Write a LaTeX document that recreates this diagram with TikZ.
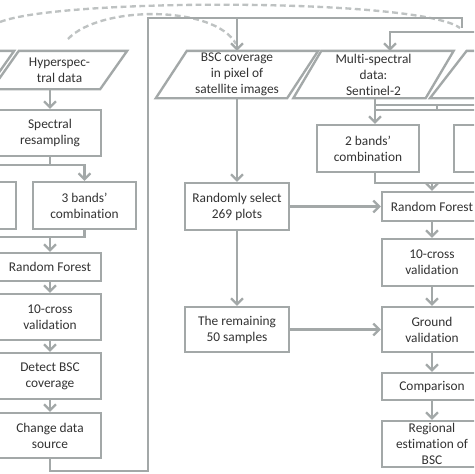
\documentclass[tikz,border=0pt]{standalone}
\usepackage{fontspec}
\setmainfont{Carlito}[Ligatures=NoCommon]
\usetikzlibrary{arrows.meta}
\definecolor{linegray}{RGB}{163,168,168}
\definecolor{dashgray}{RGB}{190,194,194}
\definecolor{textgray}{RGB}{50,50,50}
% slanted frame round a data node: #1 node name, #2 half of the slant
\newcommand{\paraframe}[2]{\draw[flow] ([xshift=-#2]#1.south west) -- ([xshift=#2]#1.north west)
    -- ([xshift=#2]#1.north east) -- ([xshift=-#2]#1.south east) -- cycle;}
\begin{document}
\begin{tikzpicture}[x=0.03cm,y=-0.03cm,
    box/.style={draw=linegray,line width=2pt,fill=white,text=textgray,align=center,inner sep=0pt,
        minimum width=3.06cm,minimum height=1.38cm,font=\fontsize{11.4}{13.6}\selectfont},
    flatbox/.style={box,minimum height=0.84cm},
    datatext/.style={box,draw=none,fill=none,minimum width=3.9cm,minimum height=1.35cm},
    flow/.style={draw=linegray,line width=2pt},
    arr/.style={flow,-{Straight Barb[length=5pt,width=10pt]}},
    loopback/.style={draw=dashgray,line width=2pt,dash pattern=on 5pt off 3pt}]
\useasboundingbox (0,0) rectangle (474,474);
\clip (0,0) rectangle (474,474);
\fill[white] (0,0) rectangle (474,474);

% dashed feedback curves
\coordinate (dA1) at (0,22);
\coordinate (dA2) at (460,28);
\coordinate (dB1) at (68,39);
\coordinate (dB2) at (236,44);
\draw[loopback] (dA1) .. controls (60,-2) and (420,-2) .. (dA2);
\draw[loopback] (dB1) .. controls (100,5) and (215,5) .. (dB2);

% left column: hyperspectral branch
\node[datatext,minimum width=3.18cm,minimum height=1.08cm] (leftpar) at (-53.5,70) {};
\node[datatext,minimum width=3.18cm,minimum height=1.08cm] (hyper) at (59.5,70) {Hyperspec-\\tral data};
\paraframe{leftpar}{0.405cm}
\paraframe{hyper}{0.405cm}
\node[box] (resamp) at (50,133) {Spectral\\resampling};
\node[box,minimum height=1.41cm] (leftbox) at (-35,205.5) {};
\node[box,minimum width=3.09cm,minimum height=1.41cm] (band3) at (84.5,205.5) {3 bands’\\combination};
\node[flatbox] (rfL) at (50,267) {Random Forest};
\node[box] (cvL) at (50,317) {10-cross\\validation};
\node[box] (detect) at (50,376) {Detect BSC\\coverage};
\node[box,minimum height=1.35cm] (change) at (50,435.5) {Change data\\source};

% middle column
\node[datatext,minimum width=3.87cm] (bsc) at (237,74.5) {BSC coverage\\in pixel of\\satellite images};
\paraframe{bsc}{0.465cm}
\node[box,minimum width=3.12cm,minimum height=1.41cm] (rsel) at (237,206.5) {Randomly select\\269 plots};
\node[box,minimum width=3.12cm,minimum height=1.35cm] (rem) at (237,329.5) {The remaining\\50 samples};

% right column: multi-spectral branch
\node[datatext] (multi) at (373.5,74.5) {Multi-spectral\\data:\\Sentinel-2};
\node[datatext] (thirdpar) at (514.5,74.5) {};
\paraframe{multi}{0.42cm}
\paraframe{thirdpar}{0.55cm}
\node[box,minimum height=1.41cm] (band2) at (368,148.5) {2 bands’\\combination};
\node[box,minimum height=1.41cm] (rbox) at (505,148.5) {};
\node[flatbox,minimum width=3cm,minimum height=0.87cm] (rfR) at (432,206.5) {Random Forest};
\node[box,minimum width=3cm,minimum height=1.41cm] (cvR) at (432,262.5) {10-cross\\validation};
\node[box,minimum width=3cm,minimum height=1.35cm] (gv) at (432,329.5) {Ground\\validation};
\node[box,minimum width=3cm,minimum height=0.81cm] (cmp) at (432,386.5) {Comparison};
\node[box,minimum width=3cm,minimum height=1.38cm] (reg) at (432,444) {Regional\\estimation of\\BSC};

% left column connectors
\coordinate (sL) at (50,165);
\coordinate (jL) at (50,237);
\draw[arr] (hyper.south -| resamp.north) -- (resamp.north);
\draw[flow] (resamp.south) -- (sL);
\draw[arr] (sL) -| (leftbox.north);
\draw[arr] (sL) -| (band3.north);
\draw[flow] (leftbox.south) |- (jL);
\draw[flow] (band3.south) |- (jL);
\draw[arr] (jL) -- (rfL.north);
\draw[arr] (rfL) -- (cvL);
\draw[arr] (cvL) -- (detect);
\draw[arr] (detect) -- (change);

% loop back to the satellite data
\coordinate (lb1) at (50,471);
\coordinate (lb2) at (148,471);
\coordinate (lt1) at (148,18);
\coordinate (lt2) at (462,18);
\coordinate (lt3) at (462,28);
\draw[flow] (change.south) -- (lb1) -- (lb2) -- (lt1) -- (lt2) -- (lt3);
\draw[arr] (bsc.north |- lt1) -- (bsc.north);

% middle column connectors
\draw[arr] (bsc.south) -- (rsel.north);
\draw[arr] (rsel) -- (rem);
\draw[arr] (rsel.east) -- (rsel.east -| rfR.west);
\draw[arr] (rem.east) -- (rem.east -| gv.west);

% right column connectors
\coordinate (mIn) at (390,32);
\coordinate (mInR) at (480,32);
\draw[arr] (mInR) -- (mIn) -- (mIn |- multi.north);
\coordinate (mOut) at (375,110);
\coordinate (mTop) at (375,105);
\coordinate (mTopR) at (480,105);
\coordinate (mOutR) at (480,110);
\coordinate (mTick) at (437,105);
\draw[flow] (mOut |- multi.south) -- (mOut);
\draw[flow] (mTop) -- (mTopR);
\draw[flow] (mOut) -- (mOutR);
\draw[flow] (mTick) -- (mTick |- mOut);
\draw[arr] (mOut) -- (mOut |- band2.north);
\coordinate (j2) at (375,183);
\coordinate (j2R) at (480,183);
\draw[flow] (j2 |- band2.south) -- (j2) -- (j2R);
\draw[arr] (j2 -| rfR.north) -- (rfR.north);
\draw[arr] (rfR) -- (cvR);
\draw[arr] (cvR) -- (gv);
\draw[arr] (gv) -- (cmp);
\draw[arr] (cmp) -- (reg);
\end{tikzpicture}
\end{document}
